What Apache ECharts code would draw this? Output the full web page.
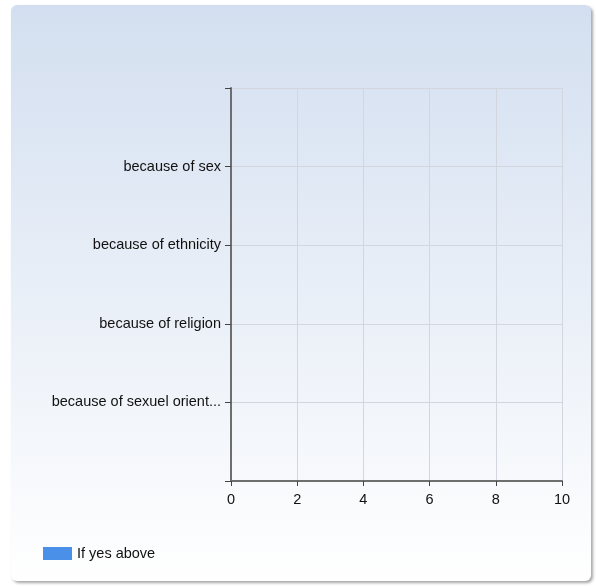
<!DOCTYPE html>
<html><head><meta charset="utf-8">
<script src="https://cdn.jsdelivr.net/npm/echarts@6/dist/echarts.min.js"></script>
<style>html,body{margin:0;padding:0;background:#fff;}#c{width:596px;height:587px;}</style>
</head><body><div id="c"></div>
<script>
const categories = ['', 'because of sex', 'because of ethnicity', 'because of religion', 'because of sexuel orient...', ''];
const seriesName = 'If yes above';
const values = [null, 0, 0, 0, 0, null];
const xTicks = { min: 0, max: 10, interval: 2 };

const FONT = 'Liberation Sans, Arial, sans-serif';
const chart = echarts.init(document.getElementById('c'), null, { renderer: 'canvas' });
chart.setOption({
  animation: false,
  backgroundColor: '#ffffff',
  graphic: [{
    type: 'rect', z: -10, silent: true,
    shape: { x: 11, y: 5, width: 580, height: 576, r: 6 },
    style: {
      fill: new echarts.graphic.LinearGradient(0, 0, 0, 1, [
        { offset: 0, color: '#d3dff0' },
        { offset: 1, color: '#ffffff' }
      ]),
      shadowBlur: 3, shadowOffsetX: 2, shadowOffsetY: 2, shadowColor: 'rgba(0,0,0,0.35)'
    }
  }],
  grid: { left: 231, right: 34, top: 88, bottom: 106, containLabel: false },
  legend: {
    left: 38, top: 541, itemWidth: 29, itemHeight: 13, itemGap: 10,
    icon: 'rect',
    textStyle: { fontFamily: FONT, fontSize: 14.5, color: '#111' },
    data: [seriesName]
  },
  xAxis: {
    type: 'value', min: xTicks.min, max: xTicks.max, interval: xTicks.interval,
    axisLine: { show: true, lineStyle: { color: '#6e6e6e', width: 2 } },
    axisTick: { show: true, length: 5, lineStyle: { color: '#444' } },
    axisLabel: { fontFamily: FONT, fontSize: 14.5, color: '#111', margin: 11 },
    splitLine: { show: true, lineStyle: { color: '#d2d6de', width: 1 } }
  },
  yAxis: {
    type: 'category', data: categories, inverse: true, boundaryGap: false,
    axisLine: { show: true, lineStyle: { color: '#6e6e6e', width: 2 } },
    axisTick: { show: true, length: 6, lineStyle: { color: '#444' } },
    axisLabel: { fontFamily: FONT, fontSize: 14.5, color: '#111', margin: 10 },
    splitLine: { show: true, lineStyle: { color: '#d2d6de', width: 1 } }
  },
  series: [{
    name: seriesName, type: 'bar', data: values,
    itemStyle: { color: '#4a90e8' }, barWidth: 20
  }]
});
</script></body></html>
